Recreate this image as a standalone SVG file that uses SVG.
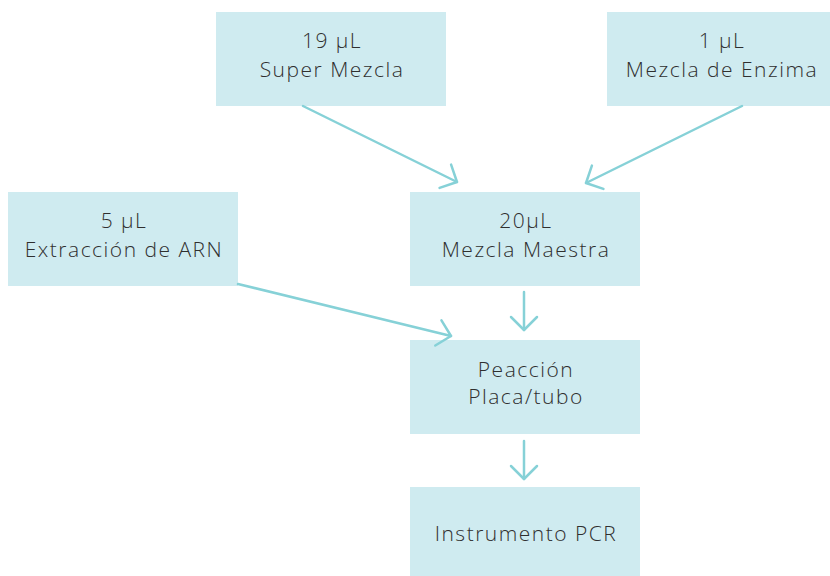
<svg xmlns="http://www.w3.org/2000/svg" width="830" height="576" viewBox="0 0 830 576">
<style>
.box{fill:#cfebf0}
.t{font-family:"Open Sans","Liberation Sans",sans-serif;font-weight:300;font-size:21px;letter-spacing:1.5px;fill:#2f2f2f;text-anchor:middle}
.c{stroke:#86d1d7;stroke-width:2.5;fill:none;stroke-linecap:round;stroke-linejoin:round}
</style>
<defs>
<marker id="ah" viewBox="0 0 30 30" refX="15" refY="15" markerWidth="30" markerHeight="30" markerUnits="userSpaceOnUse" orient="auto">
<path d="M2 2 L15 15 L2 28" fill="none" stroke="#86d1d7" stroke-width="2.5" stroke-linecap="round" stroke-linejoin="round"/>
</marker>
</defs>
<rect width="830" height="576" fill="#ffffff"/>
<g id="n-super">
<rect class="box" x="216" y="12" width="230" height="94"/>
<text class="t" x="332" y="48">19 µL</text>
<text class="t" x="332" y="77">Super Mezcla</text>
</g>
<g id="n-enzima">
<rect class="box" x="607" y="12" width="223" height="94"/>
<text class="t" x="722" y="48">1 µL</text>
<text class="t" x="722" y="77">Mezcla de Enzima</text>
</g>
<g id="n-extraccion">
<rect class="box" x="8" y="192" width="230" height="94"/>
<text class="t" x="124" y="228">5 µL</text>
<text class="t" x="124" y="257">Extracción de ARN</text>
</g>
<g id="n-maestra">
<rect class="box" x="410" y="192" width="230" height="94"/>
<text class="t" x="526" y="228">20µL</text>
<text class="t" x="526" y="257">Mezcla Maestra</text>
</g>
<g id="n-reaccion">
<rect class="box" x="410" y="340" width="230" height="94"/>
<text class="t" x="526" y="377">Peacción</text>
<text class="t" x="526" y="404">Placa/tubo</text>
</g>
<g id="n-pcr">
<rect class="box" x="410" y="487" width="230" height="89"/>
<text class="t" x="526" y="541">Instrumento PCR</text>
</g>
<g id="connectors">
<line class="c" x1="303" y1="106" x2="457" y2="182" marker-end="url(#ah)"/>
<line class="c" x1="742" y1="106" x2="586" y2="183" marker-end="url(#ah)"/>
<line class="c" x1="238" y1="284" x2="451" y2="336" marker-end="url(#ah)"/>
<line class="c" x1="524" y1="292" x2="524" y2="330" marker-end="url(#ah)"/>
<line class="c" x1="524" y1="441" x2="524" y2="479" marker-end="url(#ah)"/>
</g>
</svg>
